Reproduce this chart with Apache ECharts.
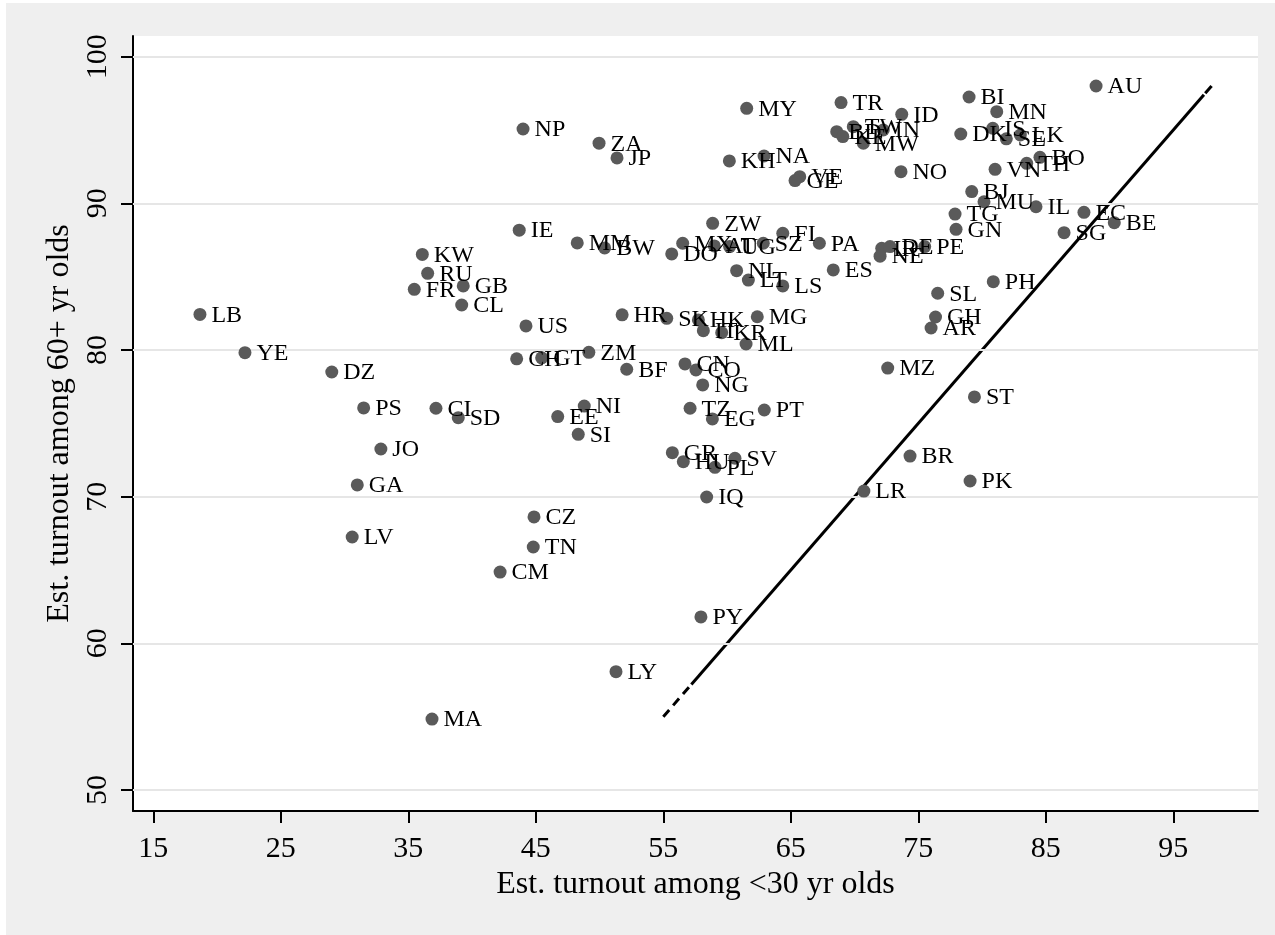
<!DOCTYPE html>
<html>
<head>
<meta charset="utf-8">
<script src="https://cdn.jsdelivr.net/npm/echarts@6/dist/echarts.min.js"></script>
<style>html,body{margin:0;padding:0;background:#fff;}#chart{width:1275px;height:935px;}</style>
</head>
<body>
<div id="chart"></div>
<script>
// Country codes, turnout among <30 (x) and 60+ (y)
const countries = ["LB","YE","DZ","PS","JO","GA","LV","KW","RU","FR","GB","CL","US","CH","GT","ZM","BF","IE","MM","BW","NP","ZA","JP","MY","KH","NA","VE","GE","TR","BD","KE","TW","MW","IN","ID","NO","BI","MN","IS","DK","SE","LK","BO","TH","VN","BJ","MU","IL","EC","BE","SG","TG","GN","PE","IR","DE","NE","ZW","MX","DO","AT","UG","SZ","FI","PA","ES","NL","LT","LS","SL","PH","GH","AR","MZ","ST","BR","PK","LR","PY","LY","MA","CM","TN","CZ","IQ","CI","SD","EE","NI","SI","HR","SK","HK","IT","KR","MG","ML","CN","CO","NG","TZ","EG","PT","GR","HU","PL","SV","AU"];
const turnoutYoung = [18.66,22.19,29.0,31.5,32.85,31.0,30.6,36.1,36.52,35.47,39.31,39.19,44.23,43.5,45.46,49.16,52.13,43.7,48.25,50.4,44.0,49.96,51.37,61.54,60.18,62.9,65.7,65.33,68.94,68.6,69.08,69.9,70.69,72.25,73.7,73.64,78.98,81.15,80.84,78.33,81.9,83.0,84.54,83.5,81.02,79.19,80.15,84.23,87.99,90.37,86.43,77.88,77.96,75.5,72.13,72.78,72.0,58.87,56.52,55.66,59.0,60.2,62.84,64.37,67.24,68.33,60.75,61.67,64.37,76.52,80.88,76.35,76.0,72.6,79.4,74.35,79.06,70.73,57.95,51.29,36.86,42.2,44.8,44.86,58.4,37.17,38.92,46.72,48.8,48.33,51.77,55.27,57.75,58.14,59.58,62.37,61.49,56.7,57.56,58.09,57.1,58.85,62.92,55.71,56.57,59.05,60.62,88.94];
const turnoutOld = [82.43,79.82,78.5,76.05,73.25,70.8,67.25,86.52,85.23,84.14,84.37,83.07,81.64,79.4,79.47,79.84,78.69,88.17,87.3,86.96,95.07,94.1,93.1,96.48,92.89,93.23,91.82,91.55,96.87,94.89,94.55,95.23,94.1,95.0,96.07,92.16,97.25,96.25,95.12,94.73,94.4,94.66,93.14,92.73,92.32,90.8,90.11,89.77,89.39,88.68,88.0,89.27,88.23,87.05,86.94,87.05,86.4,88.64,87.28,86.55,87.1,87.05,87.28,87.96,87.28,85.46,85.41,84.77,84.37,83.87,84.66,82.25,81.5,78.77,76.8,72.77,71.07,70.38,61.8,58.07,54.84,64.86,66.57,68.62,69.98,76.03,75.39,75.46,76.18,74.25,82.4,82.16,82.05,81.32,81.18,82.27,80.41,79.05,78.64,77.62,76.03,75.3,75.91,73.0,72.39,72.0,72.62,98.0];
const xTicks = [15,25,35,45,55,65,75,85,95];
const yTicks = [50,60,70,80,90,100];
const refDashLow = [[55,55],[57.2,57.2]];
const refSolid = [[57.2,57.2],[97.4,97.4]];
const refDashHigh = [[97.5,97.5],[98,98]];

const serif = "Liberation Serif";
const points = countries.map((c,i)=>({name:c, value:[turnoutYoung[i], turnoutOld[i]]}));

const chart = echarts.init(document.getElementById('chart'), null, {renderer:'canvas'});
const lineStyle = {color:'#000', width:3};
chart.setOption({
  backgroundColor:'#ffffff',
  animation:false,
  graphic:[{type:'rect', z:-10, silent:true, shape:{x:6,y:3,width:1269,height:932}, style:{fill:'#efefef'}}],
  grid:{left:133, top:36, width:1125, height:775, show:true, backgroundColor:'#ffffff', borderWidth:0},
  xAxis:{type:'value', min:13.41, max:101.64,
    name:'Est. turnout among <30 yr olds', nameLocation:'middle', nameGap:51,
    nameTextStyle:{fontFamily:serif, fontSize:32, color:'#000'},
    axisLine:{show:true, onZero:false, lineStyle:{color:'#000', width:2}},
    axisTick:{show:true, length:12, lineStyle:{color:'#000', width:2}, customValues:xTicks},
    axisLabel:{fontFamily:serif, fontSize:30, color:'#000', margin:23, customValues:xTicks},
    splitLine:{show:false}},
  yAxis:{type:'value', min:48.57, max:101.41,
    name:'Est. turnout among 60+ yr olds', nameLocation:'middle', nameGap:46, nameRotate:90,
    nameTextStyle:{fontFamily:serif, fontSize:32, color:'#000'},
    axisLine:{show:true, onZero:false, lineStyle:{color:'#000', width:2}},
    axisTick:{show:true, length:12, lineStyle:{color:'#000', width:2}, customValues:yTicks},
    axisLabel:{fontFamily:serif, fontSize:30, color:'#000', margin:20, rotate:90, customValues:yTicks},
    splitLine:{show:false}},
  series:[
    {type:'scatter', data:[], silent:true,
     markLine:{silent:true, symbol:'none', label:{show:false}, lineStyle:{color:'#e6e6e6', width:2, type:'solid'},
       data:yTicks.map(v=>({yAxis:v}))}, z:1},
    {type:'line', data:refDashLow, showSymbol:false, symbol:'none', lineStyle:Object.assign({}, lineStyle, {type:[9,6]}), z:3},
    {type:'line', data:refSolid, showSymbol:false, symbol:'none', lineStyle:lineStyle, z:3},
    {type:'line', data:refDashHigh, showSymbol:false, symbol:'none', lineStyle:lineStyle, z:3},
    {type:'scatter', data:points, symbol:'circle', symbolSize:13, zlevel:1,
     itemStyle:{color:'#5a5a5a', opacity:1},
     label:{show:true, position:'right', distance:5, offset:[0,1], formatter:'{b}', fontFamily:serif, fontSize:24, color:'#000'},
     z:4}
  ]
});
</script>
</body>
</html>
